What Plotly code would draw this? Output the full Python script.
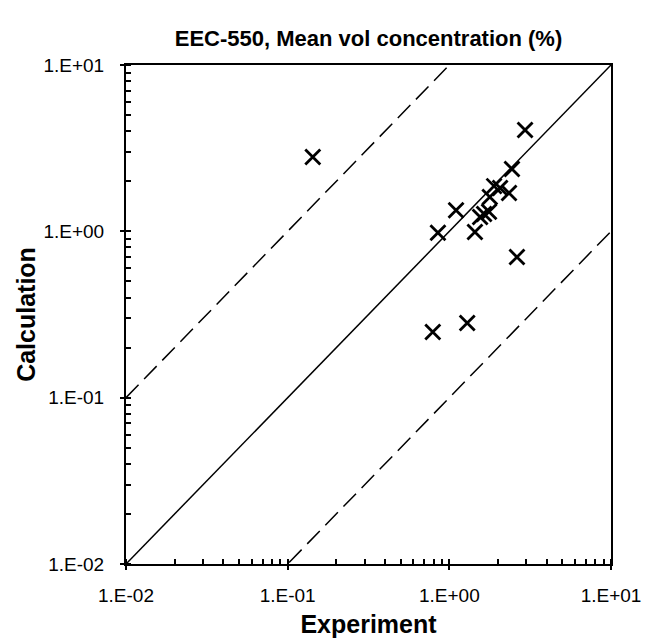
import plotly.graph_objects as go

# Data
experiment = [0.143, 2.94, 2.44, 2.34, 2.06, 1.89, 1.78, 1.76, 1.64, 1.55, 1.44, 1.10, 0.85, 2.62, 0.79, 1.29]
calculation = [2.80, 4.07, 2.37, 1.70, 1.82, 1.87, 1.61, 1.31, 1.27, 1.22, 0.99, 1.34, 0.98, 0.70, 0.248, 0.281]

tick_vals = [0.01, 0.1, 1, 10]
tick_text = ["1.E-02", "1.E-01", "1.E+00", "1.E+01"]
line_ends = [0.01, 10]
factor_lines = [10, 0.1]

FONT = "Liberation Sans, Arial, sans-serif"

fig = go.Figure()

# 1:1 line
fig.add_trace(go.Scatter(x=line_ends, y=line_ends, mode="lines",
                         line=dict(color="black", width=1.5), showlegend=False,
                         hoverinfo="skip"))
# factor-of-10 lines
for f in factor_lines:
    xs = [v for v in line_ends]
    ys = [v * f for v in line_ends]
    fig.add_trace(go.Scatter(x=xs, y=ys, mode="lines",
                             line=dict(color="black", width=1.5, dash="18px,8px"),
                             showlegend=False, hoverinfo="skip"))

fig.add_trace(go.Scatter(x=experiment, y=calculation, mode="markers",
                         marker=dict(symbol="x-thin", size=15, color="black",
                                     line=dict(color="black", width=2.8)),
                         showlegend=False, cliponaxis=False))

axis_common = dict(
    type="log", range=[-2, 1],
    tickvals=tick_vals, ticktext=tick_text,
    showline=True, linecolor="black", linewidth=2, mirror=True,
    ticks="outside", ticklen=4, tickwidth=1.5, tickcolor="black",
    showgrid=False, zeroline=False,
    tickfont=dict(family=FONT, size=19, color="black"),
    minor=dict(ticks="inside", ticklen=5, tickwidth=1.5, tickcolor="black",
               dtick="D1", showgrid=False),
    automargin=False,
)

fig.update_layout(
    width=645, height=644,
    margin=dict(l=126, r=34, t=65, b=80),
    paper_bgcolor="white", plot_bgcolor="white",
    title=dict(text="<b>EEC-550, Mean vol concentration (%)</b>",
               font=dict(family=FONT, size=22, color="black"),
               x=(126 + 611) / 2 / 645, xanchor="center", y=1 - 38 / 644, yanchor="middle"),
    xaxis=dict(**axis_common, ticklabelstandoff=9,
               title=dict(text="<b>Experiment</b>", font=dict(family=FONT, size=25, color="black"),
                          standoff=11)),
    yaxis=dict(**axis_common, ticklabelstandoff=12,
               title=dict(text="<b>Calculation</b>", font=dict(family=FONT, size=25, color="black"),
                          standoff=1)),
)

fig.write_html("out.html")
